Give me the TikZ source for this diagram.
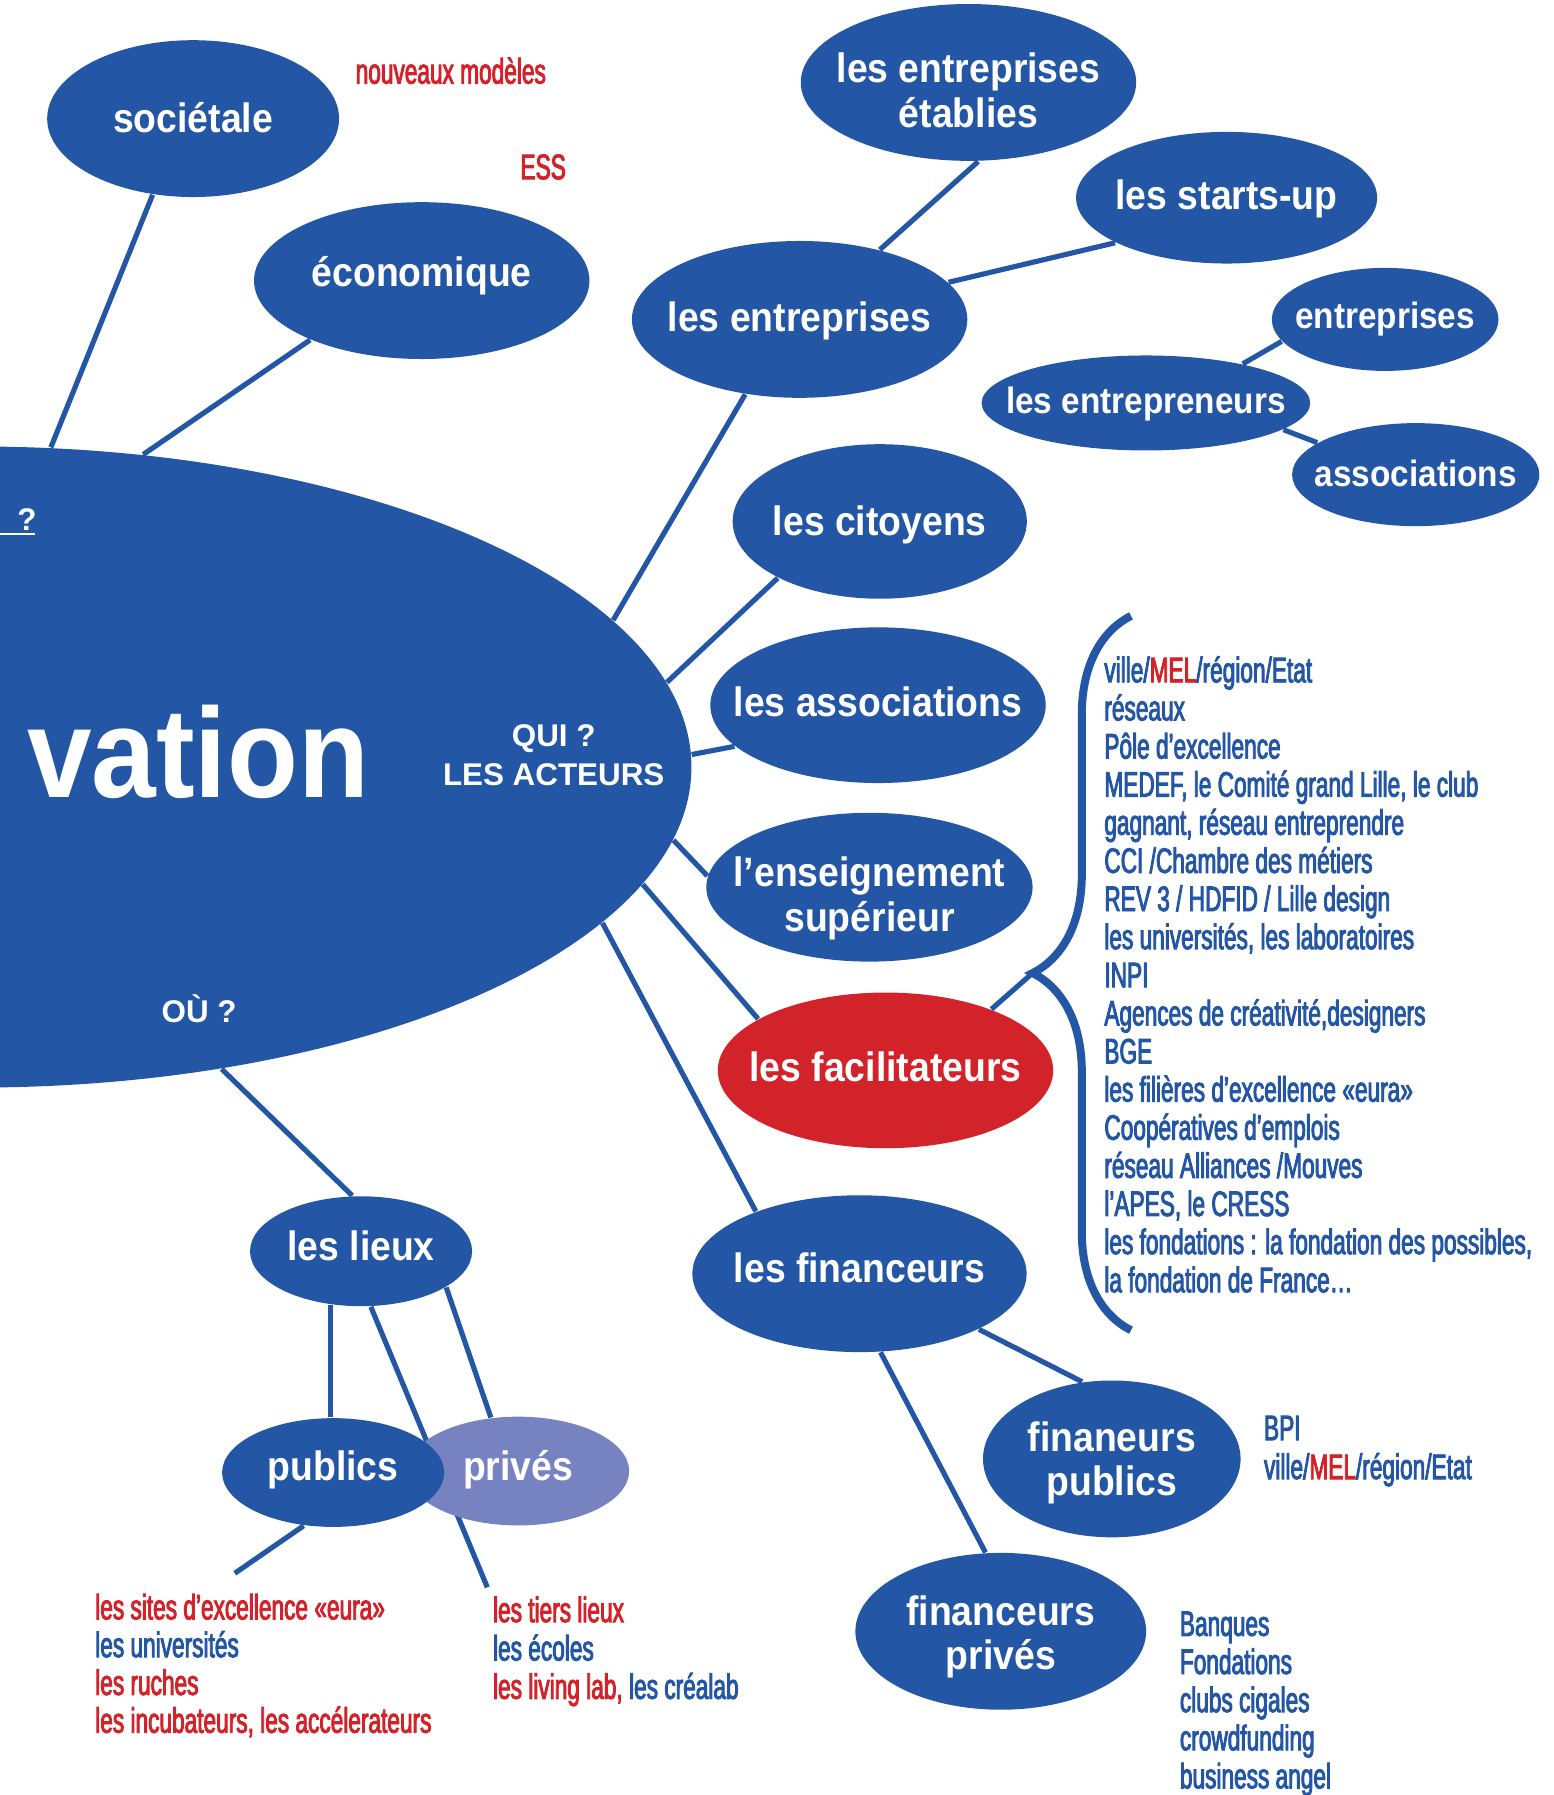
\documentclass[tikz,border=0pt]{standalone}
\usepackage{fontspec}
\setmainfont{Liberation Sans}
\newfontfamily\labelfont[FakeStretch=0.91]{Liberation Sans}
\newfontfamily\condfont[FakeStretch=0.64,FakeBold=2.5]{Liberation Sans}
\usetikzlibrary{shapes.geometric,decorations.pathreplacing,backgrounds}
\definecolor{bleu}{RGB}{35,86,165}
\definecolor{rouge}{RGB}{210,35,42}
\definecolor{mauve}{RGB}{118,131,192}
\tikzset{
	etiq/.style={text=white, font=\labelfont\bfseries\fontsize{10.2}{11.1}\selectfont, align=center, inner sep=0pt},
	bulle/.style 2 args={ellipse, fill=bleu, inner sep=0pt, label={[etiq, yshift=#2]center:#1}},
	petite/.style 2 args={ellipse, fill=bleu, inner sep=0pt, label={[etiq, yshift=#2, font=\labelfont\bfseries\fontsize{9.1}{10}\selectfont]center:#1}},
	lien/.style={draw=bleu, line width=0.45mm},
	accolade/.style={draw=bleu, line width=0.7mm},
	liste/.style={anchor=base west, inner sep=0pt, text=bleu, font=\condfont\fontsize{8.8}{9.5}\selectfont},
	titre/.style={anchor=base, inner sep=0pt, text=white, font=\bfseries\fontsize{7.8}{9}\selectfont},
}

\begin{document}
\begin{tikzpicture}[x=0.1mm,y=-0.1mm]
	\useasboundingbox (0,0) rectangle (1357,1568);
	\clip (0,0) rectangle (1357,1568);

	% grande bulle centrale
	\node[ellipse, fill=bleu, inner sep=0pt, minimum width=124.8mm, minimum height=56mm] (innov) at (-20,670) {};
	\node[anchor=base west, inner sep=0pt, text=white, font=\labelfont\bfseries\fontsize{31.7}{34}\selectfont] (vation) at (23,696.4) {vation};
	\node[titre] (qui) at (483.7,652) {QUI ?};
	\node[titre] (acteurs) at (483.7,686) {LES ACTEURS};
	\node[titre] (ou) at (174,893) {OÙ ?};
	\node[titre, anchor=base west] (quest) at (14.5,463.5) {?};
	\draw[white, line width=0.2mm] (0,466.6) -- (31,466.6);

	% pourquoi
	\node[bulle={sociétale}{0.1mm}, minimum width=25.5mm, minimum height=13.7mm] (soc) at (168.7,103.6) {};
	\node[bulle={économique}{0.4mm}, minimum width=29.3mm, minimum height=13.7mm] (eco) at (368.4,245.1) {};
	\node[liste, text=rouge] (modeles) at (310,73) {nouveaux modèles};
	\node[liste, text=rouge] (ess) at (454,156.5) {ESS};

	% les acteurs
	\node[bulle={les entreprises\\établies}{-0.7mm}, minimum width=29.3mm, minimum height=13.7mm] (etab) at (846,72) {};
	\node[bulle={les starts-up}{-0.1mm}, minimum width=26.3mm, minimum height=11.5mm] (start) at (1071.5,172.7) {};
	\node[bulle={les entreprises}{-0.1mm}, minimum width=29.3mm, minimum height=13.7mm] (entr) at (698.5,279) {};
	\node[petite={entreprises}{0mm}, minimum width=19.8mm, minimum height=9mm] (petent) at (1210,279) {};
	\node[petite={les entrepreneurs}{-0.1mm}, minimum width=28.7mm, minimum height=8.3mm] (entrep) at (1001,352) {};
	\node[petite={associations}{0.1mm}, minimum width=21.6mm, minimum height=9mm] (petassoc) at (1236.7,414.6) {};
	\node[bulle={les citoyens}{-0.3mm}, minimum width=25.7mm, minimum height=13.5mm] (cit) at (768.5,455.5) {};
	\node[bulle={les associations}{0.3mm}, minimum width=29.3mm, minimum height=13.6mm] (assoc) at (767,616) {};
	\node[bulle={l’enseignement\\supérieur}{-1mm}, minimum width=28.5mm, minimum height=13mm] (ens) at (759.5,775) {};
	\node[bulle={les facilitateurs}{0.3mm}, fill=rouge, minimum width=29.3mm, minimum height=13.6mm] (fac) at (773.5,935) {};
	\node[bulle={les financeurs}{0.5mm}, minimum width=29.2mm, minimum height=13.7mm] (fin) at (750.8,1112.6) {};
	\node[bulle={finaneurs\\publics}{-0.35mm}, minimum width=22.5mm, minimum height=13.7mm] (finpub) at (971.2,1274.4) {};
	\node[bulle={financeurs\\privés}{-0.5mm}, minimum width=25.4mm, minimum height=13.7mm] (finpriv) at (874.2,1425) {};

	% les lieux
	\node[bulle={les lieux}{0.5mm}, minimum width=19.4mm, minimum height=9.6mm] (lieux) at (315.4,1093) {};
	\node[bulle={privés}{0.1mm}, fill=mauve, minimum width=19.4mm, minimum height=9.5mm] (prives) at (452.6,1285) {};
	\node[bulle={publics}{0.2mm}, minimum width=19.4mm, minimum height=9.5mm] (publics) at (291,1286.3) {};
	\coordinate (tiers) at (425.7,1386.6);
	\coordinate (sites) at (205.1,1374.3);

	% accolade des facilitateurs
	\draw[accolade, decorate, decoration={brace, amplitude=8.6mm}] (988,1162) -- (988,538);
	\coordinate (bracetip) at (902,850);

	% listes
	\foreach \t [count=\i from 0] in {{ville/\textcolor{rouge}{MEL}/région/Etat}, réseaux, Pôle d’excellence,
		{MEDEF, le Comité grand Lille, le club}, {gagnant, réseau entreprendre}, {CCI /Chambre des métiers},
		{REV 3 / HDFID / Lille design}, {les universités, les laboratoires}, INPI, {Agences de créativité,designers},
		BGE, les filières d’excellence «eura», Coopératives d’emplois, {réseau Alliances /Mouves},
		{l’APES, le CRESS}, {les fondations : la fondation des possibles,}, la fondation de France…}
		\node[liste] (facl\i) at (964,{596+33.3*\i}) {\t};
	\foreach \t [count=\i from 0] in {{\textcolor{rouge}{les sites d’excellence «eura»}}, les universités,
		{\textcolor{rouge}{les ruches}}, {\textcolor{rouge}{les incubateurs, les accélerateurs}}}
		\node[liste] (publ\i) at (82.5,{1414.6+33*\i}) {\t};
	\foreach \t [count=\i from 0] in {{\textcolor{rouge}{les tiers lieux}}, les écoles,
		{\textcolor{rouge}{les living lab,} les créalab}}
		\node[liste] (privl\i) at (430,{1417+33.5*\i}) {\t};
	\foreach \t [count=\i from 0] in {BPI, {ville/\textcolor{rouge}{MEL}/région/Etat}}
		\node[liste] (finpubl\i) at (1103.5,{1258+34*\i}) {\t};
	\foreach \t [count=\i from 0] in {Banques, Fondations, clubs cigales, crowdfunding, business angel}
		\node[liste] (finprivl\i) at (1030,{1429+33.3*\i}) {\t};

	% liens
	\begin{pgfonlayer}{background}
		\draw[lien] (soc.-118.2) -- (innov.77.9);
		\draw[lien] (eco.208.4) -- (innov.62.4);
		\draw[lien] (etab.-83.7) -- (entr.41.7);
		\draw[lien] (start.202.2) -- (entr.14.2);
		\draw[lien] (petent.192.9) -- (entrep.22);
		\draw[lien] (entrep.-11.6) -- (petassoc.162.7);
		\draw[lien] (entr.-126.3) -- (innov.13.9);
		\draw[lien] (cit.209.8) -- (innov.7.7);
		\draw[lien] (assoc.196.4) -- (innov.1.3);
		\draw[lien] (ens.176.8) -- (innov.-6.9);
		\draw[lien] (fac.158.6) -- (innov.-10.1);
		\draw[lien] (fin.149.5) -- (innov.-14.9);
		\draw[lien] (fin.-25.2) -- (finpub.111.7);
		\draw[lien] (fin.-75.5) -- (finpriv.101.8);
		\draw[lien] (innov.-51.2) -- (lieux.99.4);
		\draw[lien] (lieux.-120) -- (lieux.-120 |- publics.north);
		\draw[lien] (lieux.-23.8) -- (prives.117);
		\draw[lien] (lieux.-80.6) -- (tiers);
		\draw[lien] (publics.-119.5) -- (sites);
		\draw[lien] (fac.30.4) -- (bracetip);
	\end{pgfonlayer}
\end{tikzpicture}
\end{document}
